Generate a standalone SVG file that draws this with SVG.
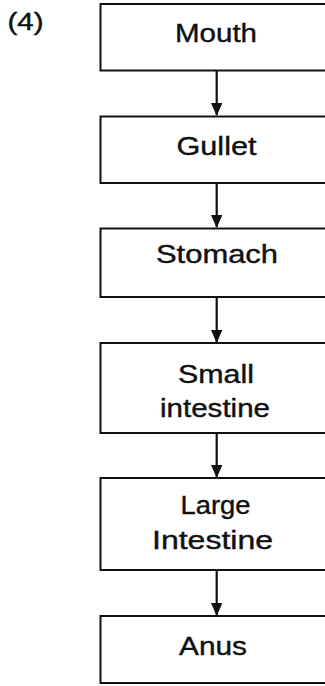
<svg xmlns="http://www.w3.org/2000/svg" width="325" height="686" viewBox="0 0 325 686">
<defs>
<style>
.box{fill:#fff;stroke:#111;stroke-width:2}
.lbl{font-family:"Liberation Sans",Arial,sans-serif;font-size:26px;fill:#111;stroke:#111;stroke-width:0.4}
.conn{stroke:#111;stroke-width:2.2;fill:none}
.head{fill:#111}
</style>
</defs>
<rect width="325" height="686" fill="#fff"/>
<text class="lbl" x="7.5" y="30" textLength="36" lengthAdjust="spacingAndGlyphs" style="font-size:23px">(4)</text>
<g id="connectors">
<line class="conn" x1="216.7" y1="71" x2="216.7" y2="115"/>
<path class="head" d="M211,103 L222.4,103 L216.7,116 Z"/>
<line class="conn" x1="216.7" y1="184" x2="216.7" y2="227"/>
<path class="head" d="M211,215 L222.4,215 L216.7,228 Z"/>
<line class="conn" x1="216.7" y1="298" x2="216.7" y2="342"/>
<path class="head" d="M211,330 L222.4,330 L216.7,343 Z"/>
<line class="conn" x1="216.7" y1="434" x2="216.7" y2="477"/>
<path class="head" d="M211,465 L222.4,465 L216.7,478 Z"/>
<line class="conn" x1="216.7" y1="571" x2="216.7" y2="615"/>
<path class="head" d="M211,603 L222.4,603 L216.7,616 Z"/>
</g>
<g id="mouth">
<rect class="box" x="100.5" y="4" width="240" height="66.5"/>
<text class="lbl" x="175" y="41.5" textLength="82" lengthAdjust="spacingAndGlyphs">Mouth</text>
</g>
<g id="gullet">
<rect class="box" x="100.5" y="116.5" width="240" height="66.5"/>
<text class="lbl" x="176.5" y="155" textLength="80" lengthAdjust="spacingAndGlyphs">Gullet</text>
</g>
<g id="stomach">
<rect class="box" x="100.5" y="228.5" width="240" height="68.5"/>
<text class="lbl" x="156" y="262.5" textLength="122" lengthAdjust="spacingAndGlyphs">Stomach</text>
</g>
<g id="small-intestine">
<rect class="box" x="100.5" y="343" width="240" height="90"/>
<text class="lbl" x="178" y="383" textLength="76" lengthAdjust="spacingAndGlyphs">Small</text>
<text class="lbl" x="160" y="416.5" textLength="110" lengthAdjust="spacingAndGlyphs">intestine</text>
</g>
<g id="large-intestine">
<rect class="box" x="100.5" y="478" width="240" height="92"/>
<text class="lbl" x="180.5" y="514" textLength="70" lengthAdjust="spacingAndGlyphs">Large</text>
<text class="lbl" x="152" y="549" textLength="121" lengthAdjust="spacingAndGlyphs">Intestine</text>
</g>
<g id="anus">
<rect class="box" x="100.5" y="616" width="240" height="67"/>
<text class="lbl" x="179" y="655" textLength="68" lengthAdjust="spacingAndGlyphs">Anus</text>
</g>
</svg>
